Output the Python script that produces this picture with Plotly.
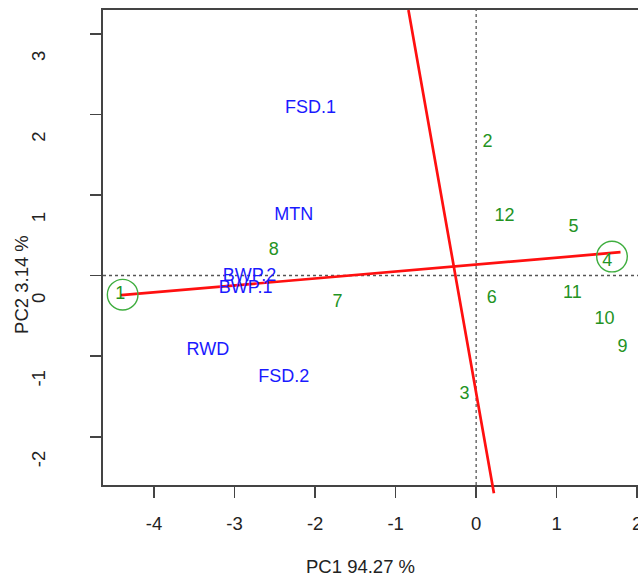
import plotly.graph_objects as go

# ---- data ----
geno_labels = ["1", "2", "3", "4", "5", "6", "7", "8", "9", "10", "11", "12"]
geno_x = [-4.42, 0.140, -0.145, 1.627, 1.208, 0.194, -1.723, -2.514, 1.817, 1.594, 1.196, 0.352]
geno_y = [-0.24, 1.656, -1.471, 0.169, 0.590, -0.285, -0.340, 0.313, -0.892, -0.545, -0.219, 0.735]

env_labels = ["FSD.1", "MTN", "BWP.2", "BWP.1", "RWD", "FSD.2"]
env_x = [-2.058, -2.266, -2.814, -2.863, -3.332, -2.390]
env_y = [2.069, 0.747, -0.009, -0.166, -0.926, -1.264]

line1_x = [-4.41, 1.793]
line1_y = [-0.244, 0.289]
line2_x = [-0.841, 0.224]
line2_y = [3.294, -2.72]

circle_x = [-4.390, 1.687]
circle_y = [-0.238, 0.235]
circle_r = 0.19

x_ticks = [-4, -3, -2, -1, 0, 1, 2]
y_ticks = [-2, -1, 0, 1, 2, 3]
x_range = [-4.634, 2.01]
y_range = [-2.599, 3.294]

x_title = "PC1 94.27 %"
y_title = "PC2 3.14 %"

BLUE = "#1a1aff"
GREEN = "#239323"
RED = "#ff1010"
FONT = "Liberation Sans, Arial, sans-serif"

# layout geometry (body margin removed below, so page px == figure px)
W, H = 638, 577
ML, MT = 103, 9.5
PH = 475.5
MR = 0
PW = W - ML - MR
MB = H - MT - PH

fig = go.Figure()

# reference dotted lines at 0
fig.add_shape(type="line", xref="x", yref="y", x0=x_range[0], x1=x_range[1], y0=0, y1=0,
              line=dict(color="#555555", width=1.3, dash="dot"), layer="below")
fig.add_shape(type="line", xref="x", yref="y", x0=0, x1=0, y0=y_range[0], y1=y_range[1],
              line=dict(color="#555555", width=1.3, dash="dot"), layer="below")

# red line 1
fig.add_trace(go.Scatter(x=line1_x, y=line1_y, mode="lines",
                         line=dict(color=RED, width=2.7), hoverinfo="skip", showlegend=False))

# red line 2 (extends slightly past the bottom of the box, like the reference)
fig.add_annotation(x=line2_x[0], y=line2_y[0], ax=line2_x[1], ay=line2_y[1],
                   xref="x", yref="y", axref="x", ayref="y", text="",
                   showarrow=True, arrowhead=0, arrowwidth=2.7, arrowcolor=RED,
                   standoff=0, startstandoff=0)

# circles
for cx, cy in zip(circle_x, circle_y):
    fig.add_shape(type="circle", xref="x", yref="y",
                  x0=cx - circle_r, x1=cx + circle_r, y0=cy - circle_r, y1=cy + circle_r,
                  line=dict(color="#3fae3f", width=1.4))

# labels
fig.add_trace(go.Scatter(x=env_x, y=env_y, text=env_labels, mode="text",
                         textfont=dict(family=FONT, size=18, color=BLUE),
                         hoverinfo="skip", showlegend=False))
fig.add_trace(go.Scatter(x=geno_x, y=geno_y, text=geno_labels, mode="text",
                         textfont=dict(family=FONT, size=18, color=GREEN),
                         hoverinfo="skip", showlegend=False))

# axis titles (positions in page pixels converted to paper coords)
def px_to_paper(px, py):
    return (px - ML) / PW, (MT + PH - py) / PH

tx, ty = px_to_paper(360, 567)
fig.add_annotation(text=x_title, xref="paper", yref="paper", x=tx, y=ty,
                   showarrow=False, font=dict(family=FONT, size=18.5, color="#222222"),
                   xanchor="center", yanchor="middle")
tx, ty = px_to_paper(21.7, 284)
fig.add_annotation(text=y_title, xref="paper", yref="paper", x=tx, y=ty,
                   showarrow=False, textangle=-90, font=dict(family=FONT, size=18.5, color="#222222"),
                   xanchor="center", yanchor="middle")

axis_common = dict(showgrid=False, zeroline=False, showline=True, linecolor="#444444", linewidth=2,
                   ticks="outside", ticklen=11, tickwidth=1.6, tickcolor="#444444",
                   tickfont=dict(family=FONT, size=18.5, color="#222222"), automargin=False,
                   ticklabeloverflow="allow")

fig.update_xaxes(range=x_range, tickvals=x_ticks, ticktext=[str(v) for v in x_ticks],
                 mirror=True, ticklabelstandoff=10, **axis_common)
fig.update_yaxes(range=y_range, tickvals=y_ticks, ticktext=[str(v) for v in y_ticks],
                 mirror=False, tickangle=-90, ticklabelstandoff=38, ticklabelshift=25, **axis_common)

fig.update_layout(width=W, height=H, margin=dict(l=ML, r=MR, t=MT, b=MB, pad=0),
                  plot_bgcolor="white", paper_bgcolor="white", showlegend=False,
                  hovermode=False)

fig.write_html("out.html", config={"displayModeBar": False, "staticPlot": True},
               post_script="document.body.style.margin='0';document.body.style.overflow='hidden';"
                           "document.documentElement.style.overflow='hidden';")
